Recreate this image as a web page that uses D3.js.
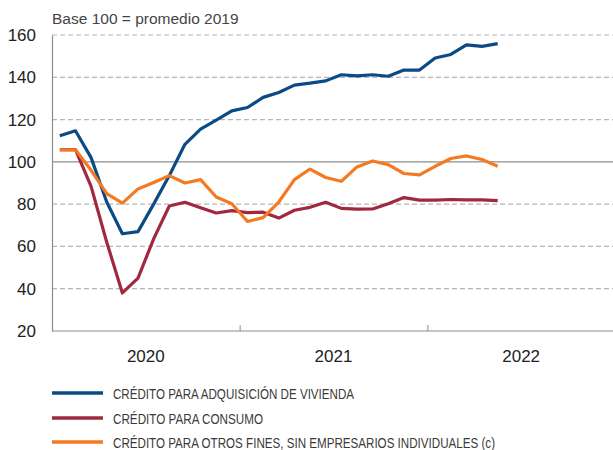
<!DOCTYPE html>
<html>
<head>
<meta charset="utf-8">
<script src="https://cdn.jsdelivr.net/npm/d3@7"></script>
<style>
  body { margin: 0; background: #fff; }
  svg { font-family: "Liberation Sans", Arial, sans-serif; }
</style>
</head>
<body>
<div id="chart"></div>
<script>
// months Jan 2020 .. May 2022
let years = ['2020', '2021', '2022'];
let yTicks = [20, 40, 60, 80, 100, 120, 140, 160];

let vivienda = [112.3, 114.7, 102, 81, 66, 67, 80, 93.5, 108.3, 115.5, 119.7, 124.1,
    125.7, 130.5, 132.8, 136.3, 137.2, 138.3, 141.2, 140.7, 141.2, 140.5, 143.4, 143.4,
    149.1, 150.8, 155.3, 154.6, 155.9];
let consumo = [105.8, 105.8, 88.4, 62, 38, 45, 63.6, 79.1, 80.9, 78.3, 75.8, 76.9,
    76, 76.2, 73.4, 77.1, 78.5, 80.9, 78, 77.6, 77.7, 80.2, 83.1, 81.9,
    81.9, 82.2, 82, 82, 81.7];
let otros = [105.7, 105.7, 96, 85, 80.5, 87.2, 90.2, 93.5, 90, 91.6, 83.4, 80.2,
    71.8, 73.6, 81, 91.6, 96.6, 92.6, 90.8, 97.6, 100.4, 98.7, 94.5, 93.8,
    97.9, 101.6, 102.8, 101.1, 97.9];

let series = [
    {name: 'CRÉDITO PARA ADQUISICIÓN DE VIVIENDA', values: vivienda, color: '#0c4a86'},
    {name: 'CRÉDITO PARA CONSUMO', values: consumo, color: '#a0283f'},
    {name: 'CRÉDITO PARA OTROS FINES, SIN EMPRESARIOS INDIVIDUALES (c)', values: otros, color: '#f47a22'}
];

let width = 613, height = 450;
let svg = d3.select('#chart').append('svg')
    .attr('width', width)
    .attr('height', height);

let x = d3.scaleLinear().domain([0, 36]).range([52, 615]);
let y = d3.scaleLinear().domain([20, 160]).range([331, 35]);

// gridlines
svg.append('g')
    .selectAll('line')
    .data(yTicks.filter(function(d){ return d > 20; }))
    .enter().append('line')
    .attr('x1', x(0))
    .attr('x2', width)
    .attr('y1', function(d){ return y(d); })
    .attr('y2', function(d){ return y(d); })
    .attr('stroke', function(d){ return d === 100 ? '#8c8c8c' : '#b5b5b5'; })
    .attr('stroke-width', 1.2)
    .attr('stroke-dasharray', function(d){ return d === 100 ? null : '5,3'; });

// y axis
let yAxis = svg.append('g')
    .attr('transform', 'translate(' + x(0) + ',0)')
    .call(d3.axisLeft(y).tickValues(yTicks).tickSize(0).tickPadding(16));
yAxis.select('.domain').attr('stroke', '#8c8c8c').attr('stroke-width', 1.2);
yAxis.selectAll('text')
    .attr('font-size', 17)
    .attr('fill', '#222')
    .style('font-family', '"Liberation Sans", Arial, sans-serif');

// x axis
let xAxis = svg.append('g')
    .attr('transform', 'translate(0,' + y(20) + ')')
    .call(d3.axisBottom(x).tickValues([12, 24]).tickSize(-6).tickFormat(''));
xAxis.select('.domain').remove();
xAxis.selectAll('.tick line').attr('stroke', '#a0a0a0').attr('stroke-width', 1.2);
svg.append('line')
    .attr('x1', x(0)).attr('x2', width)
    .attr('y1', y(20)).attr('y2', y(20))
    .attr('stroke', '#8c8c8c').attr('stroke-width', 1.2);

svg.append('g')
    .selectAll('text')
    .data(years)
    .enter().append('text')
    .attr('x', function(d, i){ return x(i * 12 + 6); })
    .attr('y', 362)
    .attr('text-anchor', 'middle')
    .attr('font-size', 17)
    .attr('fill', '#222')
    .text(function(d){ return d; });

// unit label
svg.append('text')
    .attr('x', 52)
    .attr('y', 24)
    .attr('font-size', 15.5)
    .attr('fill', '#444')
    .text('Base 100 = promedio 2019');

// lines
let line = d3.line()
    .x(function(d, i){ return x(i + 0.5); })
    .y(function(d){ return y(d); });

svg.append('g')
    .selectAll('path')
    .data(series)
    .enter().append('path')
    .attr('d', function(d){ return line(d.values); })
    .attr('fill', 'none')
    .attr('stroke', function(d){ return d.color; })
    .attr('stroke-width', 3.2)
    .attr('stroke-linejoin', 'round');

// legend (condensed text, widths)
let legendY = [393, 418, 442];
let legendTextWidth = [241, 150, 382];
let legend = svg.append('g')
    .selectAll('g')
    .data(series)
    .enter().append('g')
    .attr('transform', function(d, i){ return 'translate(52,' + legendY[i] + ')'; });

legend.append('line')
    .attr('x1', 0).attr('x2', 51)
    .attr('stroke', function(d){ return d.color; })
    .attr('stroke-width', 3.5);

legend.append('text')
    .attr('x', 61)
    .attr('y', 5.5)
    .attr('font-size', 15)
    .attr('fill', '#3a3a3a')
    .attr('textLength', function(d, i){ return legendTextWidth[i]; })
    .attr('lengthAdjust', 'spacingAndGlyphs')
    .text(function(d){ return d.name; });
</script>
</body>
</html>
